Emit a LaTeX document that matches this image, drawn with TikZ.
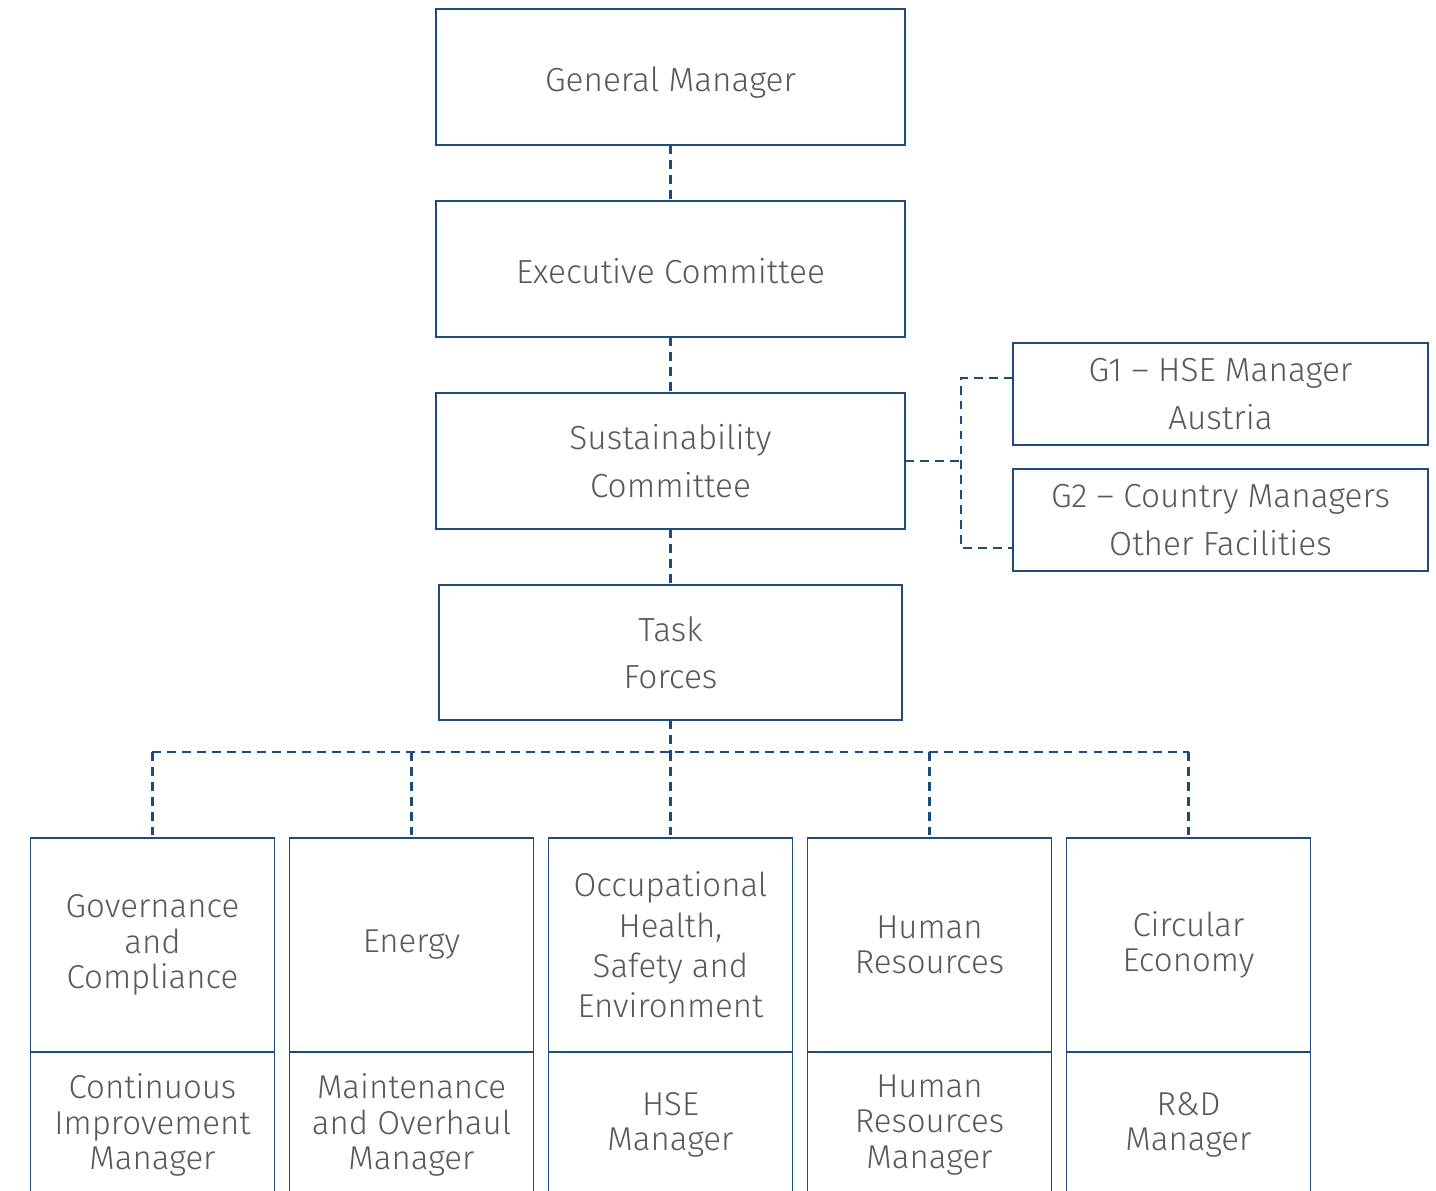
\documentclass[tikz,border=0pt]{standalone}
\usepackage{fontspec}
\setmainfont{Fira Sans}[UprightFont=* Light]
\definecolor{orgnavy}{RGB}{30, 75, 125}
\definecolor{orggray}{RGB}{88, 88, 88}
\usetikzlibrary{positioning, calc}
\tikzset{
  orgbox/.style={draw=orgnavy, line width=1.1pt, minimum width=9.38cm, minimum height=2.72cm, outer sep=0pt,
    align=center, text=orggray, font=\fontsize{19}{27}\selectfont},
  onelinebox/.style={orgbox, text height=19pt, text depth=3pt},
  sidebox/.style={orgbox, minimum width=8.3cm, minimum height=2.04cm},
  areabox/.style={orgbox, minimum width=4.88cm, minimum height=4.28cm, font=\fontsize{18.8}{20}\selectfont},
  rolebox/.style={areabox, minimum height=2.92cm},
  dashline/.style={draw=orgnavy, line width=1.3pt, dash pattern=on 5pt off 3.5pt},
}
\begin{document}
\begin{tikzpicture}[node distance=1.12cm]
  \useasboundingbox (-13.41,1.54) rectangle (15.31,-22.26);
  \clip (-13.41,1.54) rectangle (15.31,-22.26);
  % top chain
  \node[onelinebox] (gm) {General Manager};
  \node[onelinebox, below=of gm] (exec) {Executive Committee};
  \node[orgbox, below=of exec] (sust) {Sustainability\\Committee};
  \node[orgbox, below=of sust, minimum width=9.26cm, minimum height=2.7cm] (task) {Task\\Forces};
  % side groups
  \node[sidebox, anchor=north west] (g1) at ([shift={(2.16,1)}]sust.north east) {G1 -- HSE Manager\\Austria};
  \node[sidebox, below=0.48cm of g1] (g2) {G2 -- Country Managers\\Other Facilities};
  % task force areas
  \node[areabox, below=2.36cm of task, font=\fontsize{18.8}{23}\selectfont] (ohs) {Occupational\\Health,\\Safety and\\Environment};
  \node[areabox, left=0.3cm of ohs] (energy) {Energy};
  \node[areabox, left=0.3cm of energy] (gov) {Governance\\and\\Compliance};
  \node[areabox, right=0.3cm of ohs] (hr) {Human\\Resources};
  \node[areabox, right=0.3cm of hr] (circ) {Circular\\Economy};
  \node[rolebox, below=0pt of gov] (govm) {Continuous\\Improvement\\Manager};
  \node[rolebox, below=0pt of energy] (energym) {Maintenance\\and Overhaul\\Manager};
  \node[rolebox, below=0pt of ohs] (ohsm) {HSE\\Manager};
  \node[rolebox, below=0pt of hr] (hrm) {Human\\Resources\\Manager};
  \node[rolebox, below=0pt of circ] (circm) {R\&D\\Manager};
  % connectors
  \foreach \i/\j in {gm/exec,exec/sust,sust/task} \draw[dashline] (\i)--(\j);
  \coordinate (fork) at ([xshift=1.12cm]sust.east);
  \coordinate (g1in) at ([yshift=-0.7cm]g1.north west);
  \coordinate (g2in) at ([yshift=0.46cm]g2.south west);
  \draw[dashline] (sust.east) -- (fork);
  \draw[dashline] (g1in) -- (fork |- g1in) -- (fork |- g2in) -- (g2in);
  \coordinate (bus) at ([yshift=-0.64cm]task.south);
  \draw[dashline] (task.south) -- (bus);
  \draw[dashline] (gov.north |- bus) -- (circ.north |- bus);
  \foreach \n in {gov,energy,ohs,hr,circ} \draw[dashline] (\n.north |- bus) -- (\n.north);
\end{tikzpicture}
\end{document}
